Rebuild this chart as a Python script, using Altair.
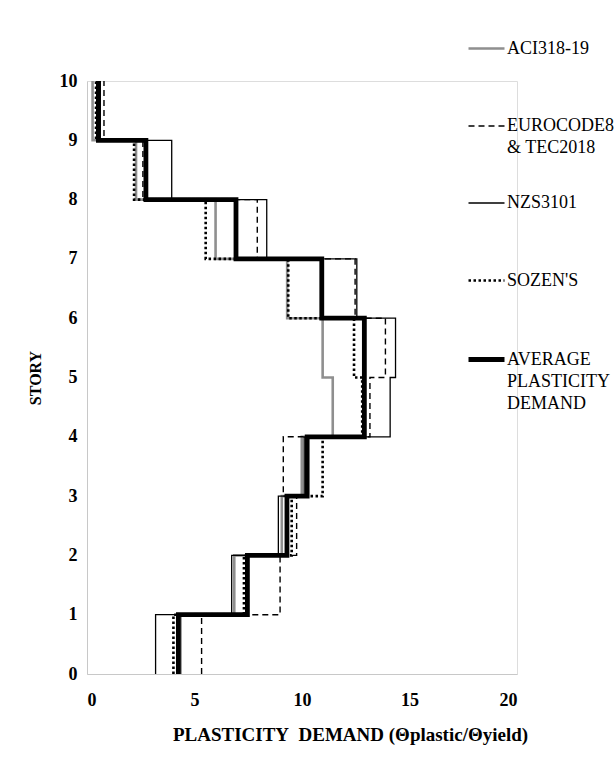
import altair as alt
import pandas as pd

# Story levels (boundaries) and the plasticity demand for each story interval (0-1, 1-2, ..., 9-10)
stories = [0, 1, 2, 3, 4, 5, 6, 7, 8, 9, 10]
series_names = ["ACI318-19| | ", "EUROCODE8|& TEC2018| ", "NZS3101| | ", "SOZEN'S| | ",
                "AVERAGE|PLASTICITY|DEMAND"]
aci = [4.35, 6.85, 9.06, 9.99, 11.43, 10.96, 9.31, 5.98, 2.28, 0.26]
eurocode = [5.33, 8.98, 9.75, 9.13, 13.16, 13.88, 12.47, 7.92, 2.60, 0.79]
nzs = [3.19, 6.73, 8.90, 10.10, 14.10, 14.35, 12.55, 8.36, 3.94, 0.62]
sozen = [4.02, 7.30, 9.52, 10.96, 12.80, 12.42, 9.36, 5.52, 2.19, 0.42]
average = [4.25, 7.46, 9.30, 10.24, 12.90, 12.90, 10.92, 6.93, 2.74, 0.53]
x_ticks = [0, 5, 10, 15, 20]

rows = []
for name, vals in zip(series_names, [aci, eurocode, nzs, sozen, average]):
    for i, v in enumerate(vals):
        rows.append({"series": name, "demand": v, "story": stories[i], "ord": 2 * i})
        rows.append({"series": name, "demand": v, "story": stories[i + 1], "ord": 2 * i + 1})
df = pd.DataFrame(rows)

FONT = "Liberation Serif"

legend = alt.Legend(
    title=None,
    orient="none",
    legendX=379,
    legendY=-52,
    symbolType="stroke",
    symbolSize=1296,
    labelExpr="split(datum.label, '|')",
    labelFont=FONT,
    labelFontSize=18,
    labelColor="black",
    labelLimit=0,
    labelOffset=0,
    rowPadding=5,
    labelBaseline="middle",
)

chart = alt.Chart(df).mark_line(strokeJoin="miter", strokeCap="butt").encode(
    x=alt.X("demand:Q",
            scale=alt.Scale(domain=[0, 20], nice=False, zero=True),
            axis=alt.Axis(values=x_ticks, title="PLASTICITY\u00a0 DEMAND (\u0398plastic/\u0398yield)",
                          grid=False, ticks=False, domainColor="#c8c8c8", domainWidth=1,
                          labelFont=FONT, labelFontSize=18, labelFontWeight="bold",
                          labelColor="black", labelPadding=17,
                          titleFont=FONT, titleFontSize=19, titleFontWeight="bold",
                          titleColor="black", titlePadding=16, titleX=263)),
    y=alt.Y("story:Q",
            scale=alt.Scale(domain=[0, 10], nice=False),
            axis=alt.Axis(values=stories, title="STORY", format="d",
                          grid=False, ticks=False, domainColor="#c8c8c8", domainWidth=1,
                          labelFont=FONT, labelFontSize=18, labelFontWeight="bold",
                          labelColor="black", labelPadding=10,
                          titleFont=FONT, titleFontSize=16, titleFontWeight="bold",
                          titleColor="black", titlePadding=16)),
    color=alt.Color("series:N",
                    scale=alt.Scale(domain=series_names,
                                    range=["#8f8f8f", "black", "black", "black", "black"]),
                    legend=legend),
    strokeDash=alt.StrokeDash("series:N",
                              scale=alt.Scale(domain=series_names,
                                              range=[[1, 0], [6, 4], [1, 0], [2.5, 2.5], [1, 0]]),
                              legend=legend),
    strokeWidth=alt.StrokeWidth("series:N",
                                scale=alt.Scale(type="ordinal", domain=series_names,
                                                range=[2.6, 1.4, 1.3, 2.6, 4.8]),
                                legend=legend),
    order="ord:Q",
    detail="series:N",
).properties(
    width=430,
    height=593,
    autosize=alt.AutoSizeParams(type="none"),
    padding={"left": 87, "top": 81, "right": 98, "bottom": 88},
).configure_view(
    stroke=None
).configure(
    background="white",
    style={"guide-label": {"lineHeight": 22}},
)

chart.save("out.html", embed_options={"renderer": "svg", "actions": False})
